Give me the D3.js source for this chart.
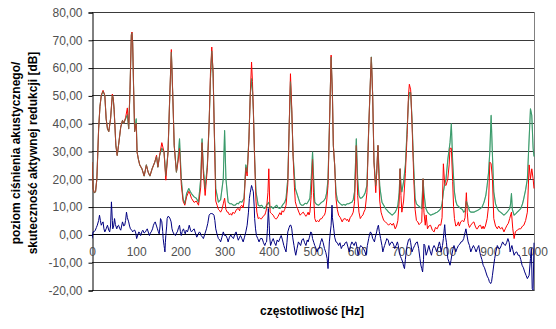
<!DOCTYPE html>
<html>
<head>
<meta charset="utf-8">
<script src="https://cdn.jsdelivr.net/npm/d3@7/dist/d3.min.js"></script>
<style>
html,body{margin:0;padding:0;background:#fff;}
svg{display:block;}
</style>
</head>
<body>
<svg id="chart" width="556" height="329"></svg>
<script>
// ---- data ----
const xTicks = [0,100,200,300,400,500,600,700,800,900,1000];
const yTicks = [-20,-10,0,10,20,30,40,50,60,70,80];
const xTitle = "częstotliwość [Hz]";
const yTitleLines = ["poziom ciśnienia akustycznego/", "skuteczność aktywnej redukcji [dB]"];

// green: spectrum without control [Hz, dB]
const greenData = [[0,26],[2.5,16.5],[5,15],[8,15.3],[11,20],[15,38],[18,46],[21,50],[25,51.5],[29,50],[32,41.6],[35,38],[38,37],[42,41.6],[46,50],[48,49],[50,45],[54,32],[57,28.4],[60,32],[65,38.6],[69,41],[72,40],[76,41.6],[80,43],[83,38],[86,52],[89,71.6],[90.5,72.5],[92,69],[94,53.6],[96.5,37],[100,41.6],[102,29.6],[105,27],[108,25],[113,23.6],[118,21],[123,25],[127,22.4],[131,21],[136,23.6],[142,26],[146,28],[149,24.2],[153,28.4],[158,31],[163,29.6],[167,21],[172,29.6],[176,50],[179.5,65.6],[183,48.8],[186,32],[191,22.4],[194.5,27],[198,34.4],[200,27],[202,20],[206,12.9],[210,11],[214,14.7],[219,16.5],[222,15.5],[225,14.7],[231,13.5],[236,13],[241,11.6],[246,20],[249,34.4],[252,23.6],[256,16.5],[261,25],[265,40],[268,56],[271,66],[274,58],[277,35.6],[280,16.5],[286,11.6],[291,12.5],[297,20],[300,37.4],[303,20],[308,11.6],[312,11],[316,11],[320,10.5],[324,10.5],[328,11.2],[331,11],[335,11.8],[339,11.6],[344,13],[348,25],[351,22.4],[355,34.4],[358,50],[361,56],[363,52],[365,45],[368,27],[371,15.3],[376,10.5],[380,10.2],[384,10.5],[388,9.5],[391,9.3],[395,10.5],[400,11.5],[403,9.5],[406,10],[410,9.3],[414,10],[418,10.5],[421,9.6],[425,9.3],[429,10],[433,11],[436,11.5],[439,13],[443,20],[446,38],[449,55],[452,44],[455,28.4],[460,16.5],[465,14],[471,11],[474,10.5],[478,10.5],[482,11.2],[486,11],[490,12],[493,13],[496,20],[499,29.6],[502,18],[504,11.6],[508,10.8],[513,10.5],[517,11.2],[520,11.6],[524,12],[528,13],[531,15],[534,20],[538,44],[541,63.8],[544,50],[546,32],[549,25],[552,15.3],[555,12.5],[558,11.6],[562,11],[566,10.5],[570,10.8],[573,10.5],[577,11],[581,11],[585,11.4],[588,11.6],[591,12.5],[594,15.3],[598,34.4],[601,20],[604,14],[607,13],[611,13.2],[615,14],[618,15],[622,17.6],[626,38],[630,56],[632,63.8],[635,50],[638,26],[642,17.6],[644,22],[647,32],[649,24],[651,17.6],[653,15],[656,11.6],[660,10.5],[664,9.3],[667,8.8],[671,8],[675,7.5],[679,6.9],[683,7.5],[686,8],[689,9],[692,10.5],[695,15],[697,23.6],[699,18],[701,15.3],[705,19],[709,25],[713,38],[716,48],[718,51],[721,51],[724,41.6],[726,32],[728,23.6],[731,13],[734,11],[737,10.5],[741,10],[746,9.3],[749,20],[751,15],[755,9.5],[759,8],[762,7.5],[766,6.9],[770,7.2],[774,7.4],[778,7.8],[781,8],[785,8.5],[789,9.3],[792,11],[795,15.3],[798,18],[801,20],[805,27],[810,33],[813,39.8],[816,26],[820,15.3],[823,12],[826,10.5],[830,10],[834,9.3],[838,9],[841,8],[844,8.5],[847,12],[850,10.5],[854,8.5],[857,8],[861,8],[864,8],[868,8.3],[872,8.6],[876,9],[879,9.3],[883,10],[887,11.6],[891,14],[894,17.6],[897,22],[900,29.6],[903,42.8],[906,28.4],[909,15.3],[913,11],[917,9.3],[920,8.5],[924,8],[928,7.5],[932,6.9],[936,7.5],[939,8],[942,8.6],[945,9.3],[947,11],[949,14.7],[951,9],[955,6.9],[959,7.5],[962,8],[966,8.6],[970,9.3],[974,11],[977,13],[981,16],[985,20],[989,34.4],[992,45.2],[995,42.8],[998,31],[1000,28]];

// red: spectrum with active control [Hz, dB]
const redData = [[0,26],[2.5,16.5],[5,15],[8,15.3],[11,20],[15,38],[18,46],[21,50],[25,51.8],[29,50],[32,41.6],[35,38],[38,37],[42,41.6],[46,50.5],[48,49],[50,45],[54,32],[57,28.4],[60,32],[65,38.6],[69,41],[72,40],[76,42],[80,45.5],[83,38],[86,52],[89,72],[90.5,72.8],[92,69],[94,53.6],[96.5,37],[100,40],[102,29.6],[105,27],[108,25],[113,23.6],[118,21],[123,25],[127,22.4],[131,21],[136,23.6],[142,26],[146,28.5],[149,24.2],[153,28.4],[158,33],[163,29.6],[167,19.5],[172,29.6],[176,50],[179.5,66.5],[183,48.8],[186,32],[191,22.4],[194.5,26],[198,31],[200,25],[202,18],[206,12],[210,10.5],[214,13.5],[219,15.5],[222,14.5],[225,13],[231,11.5],[236,12],[241,10.5],[246,17],[249,33],[252,22],[256,14],[261,24],[265,40],[268,58],[271,67.4],[274,58],[277,35],[280,12],[283,10.5],[286,9],[289,8.5],[291,8],[294,9],[297,11],[300,13],[303,9],[306,8],[308,8],[311,7],[314,7.5],[316,6.9],[319,8],[322,7.5],[324,8],[327,9],[331,9.3],[334,8.5],[336,10],[339,10.5],[342,9.5],[344,12],[348,24],[351,21],[355,34],[358,50],[361,62],[363,55],[365,45],[368,27],[371,12],[373,8],[376,5.7],[379,6],[382,5.5],[384,5.7],[387,6.5],[391,7],[393,8],[395,9.3],[398,15],[400,23.6],[402,12],[403,8],[406,7.5],[410,6.9],[413,6],[416,5.5],[418,5.7],[421,6.5],[425,7.8],[428,7],[430,8.5],[433,8],[436,9],[439,10.5],[443,18],[446,38],[449,57.8],[452,45],[455,28],[458,17],[460,11.7],[463,10],[465,9.3],[468,8],[471,6.9],[474,7.5],[478,8],[481,7.2],[484,6.5],[486,6.9],[489,8],[491,7],[493,8],[496,14],[499,27],[501,15],[504,5.7],[507,4.5],[510,5],[513,4.5],[516,5.5],[520,5.7],[523,6.5],[526,7],[528,8],[531,12],[534,17.6],[538,44],[541,64.5],[544,50],[546,32],[549,25],[552,13],[555,9],[558,6.9],[562,6],[566,4.5],[569,5.5],[573,5.7],[576,5],[578,5.5],[581,4.5],[584,6],[588,6.9],[591,8],[594,11.7],[598,32],[601,14],[604,8],[607,5.7],[610,6.5],[613,7],[615,8],[618,9],[622,15],[626,38],[630,56],[632,63.8],[635,50],[638,26],[642,15],[644,22],[647,32],[649,22],[651,12],[654,8],[656,6.9],[660,5],[664,4.5],[667,4],[671,3.3],[675,4],[679,3.3],[682,4],[686,2],[689,3],[692,5],[695,12],[697,23.6],[699,14],[701,8],[705,12],[709,22],[713,36],[716,50],[718,54],[721,52],[724,40],[726,30],[728,20],[731,9],[734,5],[737,4.5],[740,3.5],[743,4],[746,4.5],[749,20],[751,8],[754,3.3],[756,7],[759,2],[762,3],[766,3.3],[770,1.5],[774,0.9],[777,2.5],[781,2],[785,3.5],[789,3.3],[792,6],[795,25.4],[798,18],[801,17.6],[805,20],[808,25],[810,31],[813,31],[816,19],[818,10],[820,5.7],[823,3],[826,3.3],[829,4.5],[831,3],[834,4.5],[838,5],[841,4.5],[844,6],[847,15],[849,8],[851,4],[854,2.5],[857,3.3],[860,4],[864,4.5],[867,3],[870,2],[872,2],[875,3],[879,3.3],[882,2],[885,3],[887,2],[890,3],[894,5.7],[897,10],[900,26],[903,25.4],[906,20],[909,5.7],[913,3],[917,2],[920,3],[924,2],[928,2.5],[932,0.9],[935,2],[939,3.3],[942,4],[945,5.7],[949,8],[952,2],[955,-1.5],[958,1],[962,1.5],[966,2],[970,2],[974,3],[977,3.3],[981,5],[985,8],[989,25],[992,20],[995,23.6],[998,20],[1000,16.5]];

// blue: effectiveness of active reduction [Hz, dB]
const blueData = [[0,-1.5],[2.5,0.9],[5,1],[7.5,1.5],[10,2.5],[12,3.3],[15,5],[17,6.9],[19,5],[21,3.3],[23,4],[25,4.5],[27,2],[29,0.9],[32,2],[35,3.3],[38,1.5],[40,0.9],[42,3],[44,11.7],[46,5],[47,2],[49,3],[51,5.7],[53,3.5],[56,2],[58,3],[60,3.3],[63,2],[65,1.5],[67,3],[69,4.5],[72,3],[74,3.3],[76,5],[78,8],[80,6],[83,4.5],[85,3],[87,2],[90,1.5],[92,0.9],[95,1.5],[97,1.5],[99,0.5],[101,-1.5],[104,0],[106,0.9],[108,0.5],[110,-0.4],[113,1],[115,1.5],[118,0.5],[121,0.9],[123,1.5],[125,2],[128,0.5],[130,-0.4],[132,0.5],[134,0.9],[137,2],[139,3.3],[141,4],[143,4.5],[146,3],[148,2],[150,1],[152,0.2],[154,3],[155,5.7],[157,5],[158,4.5],[160,1],[161,-1.5],[163,-4],[164,-5.1],[165,-6.3],[166,-3],[167,-0.4],[169,3],[170,5.7],[172,6.5],[175,6.2],[177,5.5],[179,4.5],[181,2],[183,0.9],[186,0],[189,-0.4],[191,0.5],[193,0.9],[196,2.5],[198,3.3],[200,1],[202,-0.4],[204,1],[207,2],[209,1],[211,0.2],[213,1.5],[216,0.9],[218,2],[220,3.3],[223,1.5],[225,0.9],[228,1.5],[231,2],[234,0.5],[237,-1],[240,0],[243,0.9],[245,0.5],[247,-0.4],[250,-1],[252,-1.5],[255,0],[259,2],[262,4],[265,6.9],[268,7.5],[271,7.5],[274,7.3],[276,6.9],[278,5],[280,2],[283,0],[286,-1.5],[289,-2],[291,-2.7],[294,-1],[297,0.9],[300,-0.4],[303,-0.4],[306,-1.5],[308,-2.7],[311,-1],[314,-0.2],[317,-1],[320,-1.5],[323,0],[326,0.9],[329,-1],[331,-2.1],[334,-1],[336,-0.4],[339,-1.5],[342,-2.7],[345,-1],[348,0.9],[351,3.3],[354,8],[356,12.9],[358,15],[361,17.6],[363,16.5],[365,15.3],[367,10],[368,5.7],[370,2],[372,-0.4],[375,-1.5],[378,-2.7],[381,-1.5],[385,-1.5],[388,-3],[391,-4],[393,-3],[395,-2.7],[397,2],[399,9.3],[401,3.3],[402,-1],[404,-4],[407,-2.5],[410,-1.5],[413,-3],[416,-4],[419,-2],[422,-2.7],[425,-1.5],[428,-0.4],[431,-2],[434,-4],[436,-5],[439,-6.3],[441,-3],[443,0.9],[446,2.5],[448,3.3],[450,3.3],[452,2],[454,-1],[457,-4],[459,-6],[461,-7.5],[464,-5],[467,-2.7],[470,-3.5],[472,-4],[475,-2],[478,-1.5],[481,-3],[484,-4],[487,-2],[489,-2.7],[492,-1],[495,0.9],[497,0.5],[499,-1.5],[502,-3],[504,-4],[507,-5.1],[509,-6.3],[512,-5],[514,-5.1],[517,-3],[520,-1.5],[523,-3],[526,-5.1],[529,-6.5],[532,-8.7],[534,-12.3],[536,-6],[537,-2.7],[539,0.5],[541,3.3],[543,10.5],[544,6],[547,2],[549,-1],[552,-2.7],[555,-3],[558,-4],[561,-3],[564,-5.1],[567,-4],[570,-4],[573,-3],[576,-2.7],[579,-4.5],[582,-6.3],[585,-4],[588,-2.7],[591,-3.5],[593,-4],[595,-3],[597,-2.7],[600,-5],[602,-7.5],[605,-5],[608,-4],[611,-4.5],[614,-5.1],[617,-6],[620,-7.5],[623,-4],[626,-1.5],[628,0],[630,0.9],[633,0],[635,-1.5],[637,-2],[639,-2.7],[641,-1],[644,0.9],[646,2.5],[648,3.3],[650,1],[653,-1.5],[656,-4],[658,-6.3],[660,-5],[662,-4],[665,-2.5],[667,-1.5],[670,-2],[673,-4],[676,-3],[679,-2.7],[682,-3.5],[685,-5.1],[688,-4],[691,-2.7],[693,-4],[695,-6.3],[698,-8],[700,-8.7],[703,-10],[705,-11.5],[707,-12.3],[709,-9],[711,-6],[713,-4],[716,-2],[719,-1.5],[721,-3],[724,-6.3],[727,-5],[730,-4],[733,-3],[736,-2.7],[739,-5],[742,-8.7],[744,-11],[746,-12.3],[748,-13.5],[750,-9],[751,-3.5],[753,-4],[756,-7.5],[759,-6],[762,-4],[765,-6],[768,-7.5],[771,-5],[774,-4],[777,-5],[780,-6.3],[783,-4.5],[786,-2.7],[788,-4],[790,-6.3],[793,-4],[795,-1.5],[797,2],[798,3.5],[800,-1],[802,-3],[805,-8.7],[808,-10],[810,-11.1],[812,-9.5],[814,-7.5],[817,-5],[819,-4],[821,-5],[823,-6.3],[826,-5],[829,-4],[832,-3.5],[835,-2.7],[838,-2.5],[841,-1.5],[843,0],[846,2],[848,0],[851,-2.7],[854,-4],[857,-6.3],[860,-5],[863,-4],[866,-5],[869,-6.3],[872,-5],[875,-4],[877,-6],[879,-7.5],[882,-9],[885,-11.1],[888,-12],[891,-13.5],[894,-15],[897,-15.9],[899,-17],[902,-17.7],[904,-17],[906,-14.7],[909,-11],[911,-8.7],[914,-6],[917,-4],[920,-5],[923,-5.1],[926,-4],[929,-2.7],[932,-3.5],[935,-4],[938,-3],[941,-1.5],[944,-3],[946,-6.3],[948,-5],[950,-4],[952,-5.5],[955,-7.5],[958,-6.5],[961,-6.3],[964,-7.5],[967,-7.5],[970,-9],[973,-11.1],[976,-12],[979,-13.5],[982,-14.7],[985,-15.9],[989,-14.7],[992,-8.7],[994,-5],[996,-19.5],[998,-20],[1000,-3]];

// ---- drawing ----
const svg = d3.select("#chart");
const FONT = "Arial, 'Liberation Sans', sans-serif";
const x = d3.scaleLinear().domain([0, 1000]).range([92, 534]);
const y = d3.scaleLinear().domain([-20, 80]).range([290, 12]);

svg.append("rect").attr("width", 556).attr("height", 329).attr("fill", "#fff");

// gridlines
svg.append("g").selectAll("line").data(yTicks).join("line")
  .attr("x1", 92).attr("x2", 534)
  .attr("y1", d => Math.round(y(d)) + 0.5).attr("y2", d => Math.round(y(d)) + 0.5)
  .attr("stroke", d => d === 0 ? "#000" : "#3a3a3a").attr("stroke-width", 1);

// right border
svg.append("line").attr("x1", 534.5).attr("x2", 534.5).attr("y1", y(80)).attr("y2", y(-20) + 1)
  .attr("stroke", "#808080");

// y axis
const yAxis = d3.axisLeft(y).tickValues(yTicks).tickSize(4).tickPadding(6)
  .tickFormat(d => d3.format(".2f")(d).replace(".", ",").replace("−", "-"));
const gy = svg.append("g").attr("transform", "translate(92.5,0.5)").call(yAxis);
gy.select(".domain").attr("stroke", "#000");
gy.selectAll(".tick line").attr("stroke", "#000");
gy.selectAll(".tick text").attr("font-family", FONT).attr("font-size", 12).attr("fill", "#505050");

// x axis labels on the zero line
const xAxis = d3.axisBottom(x).tickValues(xTicks).tickSize(0).tickPadding(13).tickFormat(d3.format("d"));
const gx = svg.append("g").attr("transform", `translate(0,${y(0)})`).call(xAxis);
gx.select(".domain").remove();
gx.selectAll(".tick text").attr("font-family", FONT).attr("font-size", 12).attr("fill", "#505050");

// clip
svg.append("clipPath").attr("id", "plotclip").append("rect")
  .attr("x", 92).attr("y", 10).attr("width", 443).attr("height", 281);

const line = d3.line().x(d => x(d[0])).y(d => y(d[1]));
const plot = svg.append("g").attr("clip-path", "url(#plotclip)");
plot.append("path").datum(greenData).attr("d", line).attr("fill", "none")
  .attr("stroke", "#3c9c6c").attr("stroke-width", 1.1).attr("stroke-linejoin", "round");
plot.append("path").datum(redData).attr("d", line).attr("fill", "none")
  .attr("stroke", "#ff0000").attr("stroke-width", 1).attr("stroke-linejoin", "round");
// green drawn again, semi-transparent, so overlapping stretches blend like the original
plot.append("path").datum(greenData).attr("d", line).attr("fill", "none")
  .attr("stroke", "#3c9c6c").attr("stroke-width", 1).attr("stroke-opacity", 0.45).attr("stroke-linejoin", "round");
plot.append("path").datum(blueData).attr("d", line).attr("fill", "none")
  .attr("stroke", "#000080").attr("stroke-width", 1).attr("stroke-linejoin", "round");

// axis titles
svg.append("text").attr("x", 312).attr("y", 315).attr("text-anchor", "middle")
  .attr("font-family", FONT).attr("font-size", 12).attr("font-weight", "bold").attr("fill", "#000")
  .text(xTitle);

const yt = svg.append("g").attr("transform", "translate(0,153) rotate(-90)");
yTitleLines.forEach((t, i) => {
  yt.append("text").attr("x", 0).attr("y", 19.5 + i * 17)
    .attr("text-anchor", "middle").attr("font-family", FONT).attr("font-size", 12)
    .attr("font-weight", "bold").attr("fill", "#000").text(t);
});
</script>
</body>
</html>
